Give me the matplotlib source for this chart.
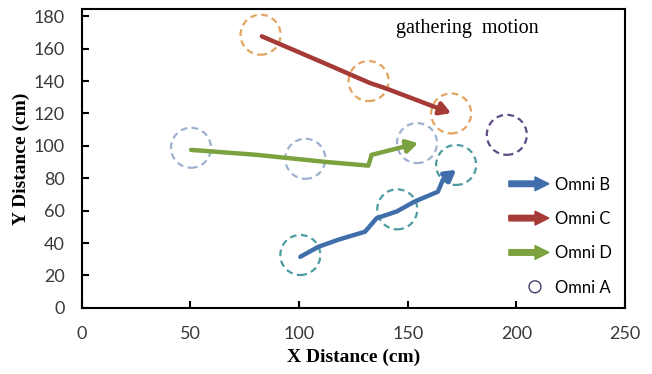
import matplotlib
matplotlib.use("Agg")
import matplotlib.pyplot as plt
import matplotlib.patches as mpatches
from matplotlib.legend_handler import HandlerPatch

# robot paths (cm)
omni_b_x = [100.6, 109, 118, 130.4, 135.7, 145, 153.2, 163.9, 166.2, 172.3]
omni_b_y = [31.5, 37.7, 42, 47, 55.3, 59.5, 65.6, 71.7, 79, 85.2]
omni_c_x = [82.9, 110, 132.6, 139.5, 170]
omni_c_y = [167.6, 152, 138.8, 135.7, 120.2]
omni_d_x = [50.3, 80, 113.6, 131.9, 133.4, 154.8]
omni_d_y = [97.5, 94.5, 89.9, 87.8, 94.4, 101.7]

# robot positions drawn as dashed circles
circ_b_x = [100.6, 145.2, 172.3]
circ_b_y = [32.6, 60.8, 88.2]
circ_c_x = [82.3, 132, 170]
circ_c_y = [168.6, 140, 120]
circ_d_x = [50.3, 102.9, 154.3]
circ_d_y = [98.8, 92, 101.7]
omni_a_x = [195.6]
omni_a_y = [106.8]

blue = "#3F6EAB"
red = "#A53A36"
green = "#7BA23F"

fig = plt.figure(figsize=(6.52, 3.74), dpi=100)
ax = fig.add_axes([0.1253, 0.177, 0.8333, 0.799])

ring = dict(s=830, facecolors="none", linewidths=1.6, linestyle=(0, (3, 2)), zorder=2)
ax.scatter(circ_c_x, circ_c_y, edgecolors="#E3A462", **ring)
ax.scatter(circ_d_x, circ_d_y, edgecolors="#9DB1CF", **ring)
ax.scatter(circ_b_x, circ_b_y, edgecolors="#4E9BA0", **ring)
ax.scatter(omni_a_x, omni_a_y, edgecolors="#5E4B86", **ring)


def path(xs, ys, color):
    ax.plot(xs[:-1], ys[:-1], color=color, lw=3.2, solid_capstyle="round", zorder=3)
    ax.annotate("", xy=(xs[-1], ys[-1]), xytext=(xs[-2], ys[-2]),
                arrowprops=dict(arrowstyle="-|>,head_length=0.65,head_width=0.38",
                                color=color, lw=3.2, shrinkA=0, shrinkB=0), zorder=3)


path(omni_b_x, omni_b_y, blue)
path(omni_c_x, omni_c_y, red)
path(omni_d_x, omni_d_y, green)

ax.set_xlim(0, 250)
ax.set_ylim(0, 184.5)
ax.set_xticks(range(0, 251, 50))
ax.set_yticks(range(0, 181, 20))
ax.tick_params(direction="in", length=5, width=1.5, labelsize=13,
               labelcolor="#3a3a3a")
ax.tick_params(axis="x", pad=13)
ax.tick_params(axis="y", pad=12)
for s in ax.spines.values():
    s.set_linewidth(1.5)
for lbl in ax.get_xticklabels() + ax.get_yticklabels():
    lbl.set_fontfamily("Lato")

ax.set_xlabel("X Distance (cm)", fontfamily="Liberation Serif", fontweight="bold",
              fontsize=14, labelpad=5)
ax.set_ylabel("Y Distance (cm)", fontfamily="Liberation Serif", fontweight="bold",
              fontsize=14)
ax.yaxis.set_label_coords(-0.096, 0.5)
ax.text(0.709, 0.935, "gathering  motion", transform=ax.transAxes,
        fontfamily="Liberation Serif", fontsize=14.5, ha="center", va="center")


def arrow_handle(legend, orig_handle, xdescent, ydescent, width, height, fontsize):
    return mpatches.FancyArrow(0, height / 2, width, 0, width=4, head_width=10,
                               head_length=10, length_includes_head=True,
                               color=orig_handle.get_facecolor(), lw=0)


def ring_handle(legend, orig_handle, xdescent, ydescent, width, height, fontsize):
    return mpatches.Circle((width - 10, height / 2), 4.3, fill=False, lw=1.8,
                           linestyle=(0, (2, 1.5)),
                           edgecolor=orig_handle.get_edgecolor())


handles = [mpatches.Patch(color=blue), mpatches.Patch(color=red),
           mpatches.Patch(color=green),
           mpatches.Patch(facecolor="none", edgecolor="#4A3F6A")]
hmap = {handles[0]: HandlerPatch(patch_func=arrow_handle),
        handles[1]: HandlerPatch(patch_func=arrow_handle),
        handles[2]: HandlerPatch(patch_func=arrow_handle),
        handles[3]: HandlerPatch(patch_func=ring_handle)}
leg = ax.legend(handles, ["Omni B", "Omni C", "Omni D", "Omni A"], handler_map=hmap,
                loc="lower right", bbox_to_anchor=(1.006, -0.015), frameon=False,
                prop={"family": "Lato", "size": 12}, handlelength=2.4,
                handletextpad=0.35, labelspacing=1.1, borderaxespad=0.6)

fig.savefig("out.png", dpi=100)
